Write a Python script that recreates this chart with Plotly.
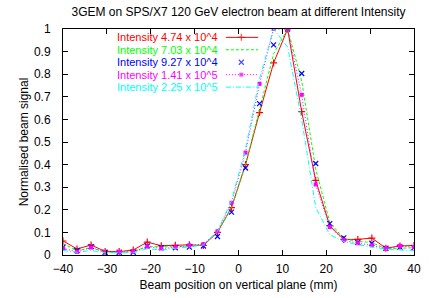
import plotly.graph_objects as go

positions = [-40.0, -36.8, -33.6, -30.4, -27.2, -24.0, -20.8, -17.6, -14.4, -11.2, -8.0, -4.8, -1.6,
             1.6, 4.8, 8.0, 11.2, 14.4, 17.6, 20.8, 24.0, 27.2, 30.4, 33.6, 36.8, 40.0]

int_474e4 = [0.062, 0.027, 0.044, 0.016, 0.015, 0.022, 0.057, 0.041, 0.043, 0.045, 0.042, 0.10, 0.21,
             0.40, 0.63, 0.85, 1.0, 0.634, 0.33, 0.13, 0.069, 0.069, 0.075, 0.030, 0.040, 0.042]
int_703e4 = [0.050, 0.020, 0.032, 0.012, 0.012, 0.015, 0.037, 0.035, 0.036, 0.040, 0.045, 0.10, 0.21,
             0.40, 0.65, 0.89, 1.0, 0.77, 0.38, 0.145, 0.072, 0.060, 0.055, 0.028, 0.030, 0.032]
int_927e4 = [0.035, 0.020, 0.037, 0.012, 0.012, 0.012, 0.040, 0.032, 0.032, 0.035, 0.040, 0.082, 0.19,
             0.385, 0.67, 0.93, 1.0, 0.803, 0.405, 0.139, 0.076, 0.056, 0.052, 0.030, 0.035, 0.033]
int_141e5 = [0.030, 0.014, 0.033, 0.014, 0.014, 0.014, 0.037, 0.029, 0.033, 0.043, 0.048, 0.105, 0.231,
             0.453, 0.757, 1.0, 1.0, 0.709, 0.312, 0.124, 0.066, 0.052, 0.043, 0.028, 0.040, 0.035]
int_225e5 = [0.020, 0.012, 0.020, 0.010, 0.010, 0.010, 0.028, 0.022, 0.030, 0.035, 0.045, 0.105, 0.24,
             0.47, 0.78, 1.0, 0.92, 0.60, 0.21, 0.09, 0.060, 0.045, 0.035, 0.025, 0.022, 0.020]

labels = ["Intensity 4.74 x 10^4", "Intensity 7.03 x 10^4", "Intensity 9.27 x 10^4",
          "Intensity 1.41 x 10^5", "Intensity 2.25 x 10^5"]
series = [int_474e4, int_703e4, int_927e4, int_141e5, int_225e5]
colors = ["#ff0000", "#00ff00", "#0000ff", "#ff00ff", "#00ffff"]
modes = ["lines+markers", "lines", "markers", "lines+markers", "lines"]
dashes = ["solid", "3px,2px", "solid", "1px,2px", "5px,2px,1px,2px"]
symbols = ["cross-thin", "circle", "x-thin", "square", "circle"]
msizes = [5, 0, 5, 4, 0]

x_ticks = [-40, -30, -20, -10, 0, 10, 20, 30, 40]
y_ticks = [0, 0.1, 0.2, 0.3, 0.4, 0.5, 0.6, 0.7, 0.8, 0.9, 1.0]
y_ticktext = ["0", "0.1", "0.2", "0.3", "0.4", "0.5", "0.6", "0.7", "0.8", "0.9", "1"]

FONT = "Liberation Sans, Arial, sans-serif"
FS = 12
KEY_FS = 11

fig = go.Figure()

def marker_for(i):
    m = dict(symbol=symbols[i], size=msizes[i], color=colors[i])
    if symbols[i] in ("cross-thin", "x-thin"):
        m["line"] = dict(color=colors[i], width=1.2)
    else:
        m["line"] = dict(width=0)
    return m

for i, ys in enumerate(series):
    fig.add_trace(go.Scatter(
        x=positions, y=ys, mode=modes[i], name=labels[i],
        line=dict(color=colors[i], width=1, dash=dashes[i]),
        marker=marker_for(i), showlegend=False, cliponaxis=True,
    ))

# gnuplot-style key: right-aligned text with a sample to the right (overlay axis in plot fraction)
key_rows = [0.963, 0.908, 0.853, 0.798, 0.743]
key_text_x = 0.444
key_line = [0.464, 0.508, 0.556]
for i in range(len(series)):
    fig.add_annotation(x=key_text_x, y=key_rows[i], xref="paper", yref="paper",
                       text=labels[i], showarrow=False, xanchor="right", yanchor="middle",
                       borderpad=0, font=dict(family=FONT, size=KEY_FS, color=colors[i]))
    m = marker_for(i)
    m["size"] = [0, msizes[i], 0]
    fig.add_trace(go.Scatter(
        x=key_line, y=[key_rows[i]] * 3, xaxis="x2", yaxis="y2",
        mode=modes[i], line=dict(color=colors[i], width=1, dash=dashes[i]),
        marker=m, showlegend=False, hoverinfo="skip",
    ))

axis_common = dict(showline=True, linecolor="black", linewidth=1, mirror="ticks",
                   ticks="inside", ticklen=5, tickcolor="black", tickwidth=1,
                   showgrid=False, zeroline=False,
                   tickfont=dict(family=FONT, size=FS, color="black"))

fig.update_layout(
    width=429, height=298,
    margin=dict(l=63, r=8, t=29, b=39),
    paper_bgcolor="white", plot_bgcolor="white",
    title=dict(text="3GEM on SPS/X7 120 GeV electron beam at different Intensity",
               x=0.5, xref="paper", y=1 - 12 / 298, yref="container", yanchor="middle",
               xanchor="center", font=dict(family=FONT, size=FS, color="black")),
    xaxis=dict(range=[-40, 40], tickvals=x_ticks, ticklabelstandoff=3,
               title=dict(text="Beam position on vertical plane (mm)", standoff=5,
                          font=dict(family=FONT, size=FS, color="black")),
               **axis_common),
    yaxis=dict(range=[0, 1], tickvals=y_ticks, ticktext=y_ticktext, ticklabelstandoff=9,
               title=dict(text="Normalised beam signal", standoff=2,
                          font=dict(family=FONT, size=FS, color="black")),
               **axis_common),
    xaxis2=dict(overlaying="x", range=[0, 1], visible=False, fixedrange=True),
    yaxis2=dict(overlaying="y", range=[0, 1], visible=False, fixedrange=True),
)

fig.write_html("out.html", config={"displayModeBar": False},
               post_script="document.body.style.margin='0';document.body.style.padding='0';")
